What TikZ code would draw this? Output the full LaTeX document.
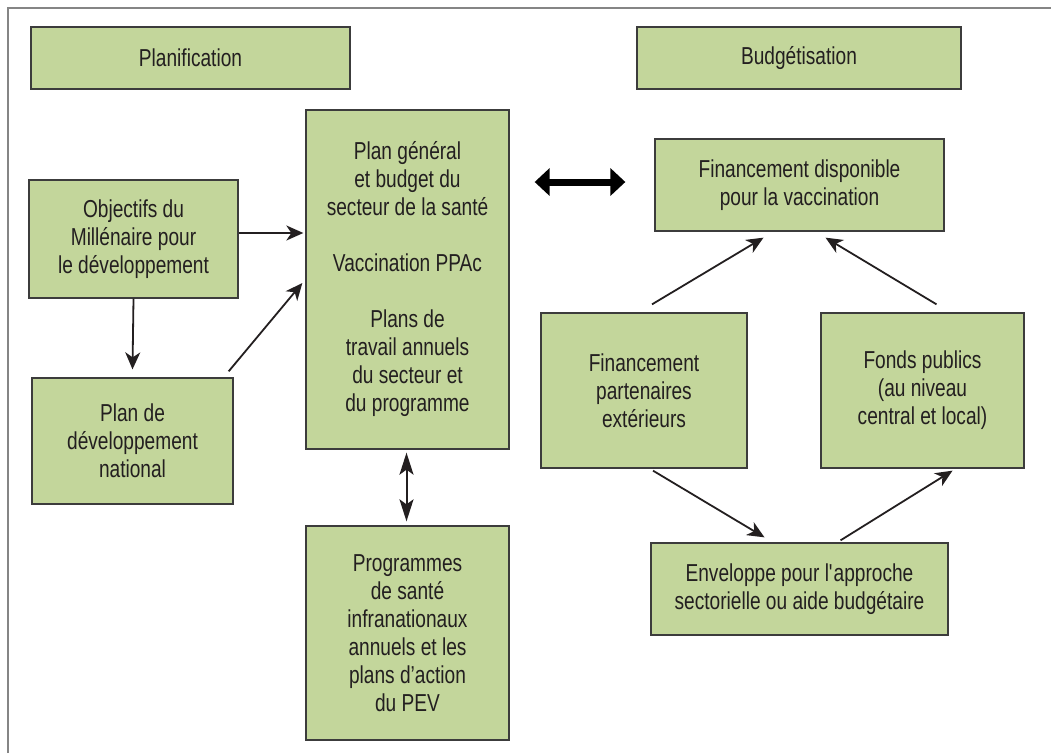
\documentclass[tikz,border=0pt]{standalone}
\usepackage{fontspec}
\setmainfont{Liberation Sans}[FakeStretch=0.78]
\usetikzlibrary{arrows.meta,calc}
\definecolor{boxgreen}{HTML}{C3D69B}
\definecolor{boxline}{HTML}{3C3C3C}
\definecolor{txt}{HTML}{231F20}
\definecolor{framegray}{HTML}{858585}
\tikzset{
  box/.style={draw=boxline, line width=1.3pt, fill=boxgreen, inner sep=0pt,
    align=center, text=txt, font=\fontsize{24.5}{28}\selectfont},
  arr/.style={draw=txt, line width=1.8pt, -{Stealth[length=17pt,width=15pt,inset=5pt]}},
  darr/.style={draw=txt, line width=2pt, {Stealth[length=22pt,width=14pt,inset=5pt]}-{Stealth[length=22pt,width=14pt,inset=5pt]}},
  bigarr/.style={draw=black, line width=7pt, {Triangle[length=15pt,width=27pt]}-{Triangle[length=15pt,width=27pt]}},
}
\begin{document}
\begin{tikzpicture}[x=1pt,y=-1pt]
\useasboundingbox (0,0) rectangle (1051,753);
\draw[framegray, line width=2pt] (8,753) -- (8,8) -- (1051,8);

\node[box, minimum width=319, minimum height=62] (plan) at (190.5,58) {Planification};
\node[box, minimum width=324, minimum height=62] (budg) at (799,58) {Budgétisation};

\node[box, minimum width=209, minimum height=118] (obj) at (133.5,239)
  {Objectifs du\\ Millénaire pour\\ le développement};
\node[box, minimum width=201, minimum height=126] (pdev) at (132.5,441)
  {Plan de\\ développement\\ national};
\node[box, minimum width=203, minimum height=339] (gen) at (407.5,279.5)
  {Plan général\\ et budget du\\ secteur de la santé\\[28pt] Vaccination PPAc\\[28pt] Plans de\\ travail annuels\\ du secteur et\\ du programme};
\node[box, minimum width=203, minimum height=214] (prog) at (407.5,633)
  {Programmes\\ de santé\\ infranationaux\\ annuels et les\\ plans d’action\\ du PEV};

\node[box, minimum width=289, minimum height=92] (fd) at (799.5,185)
  {Financement disponible\\ pour la vaccination};
\node[box, minimum width=206, minimum height=155] (fp) at (644,390.5)
  {Financement\\ partenaires\\ extérieurs};
\node[box, minimum width=203, minimum height=155] (fonds) at (922.5,390.5)
  {Fonds publics\\ (au niveau\\ central et local)};
\node[box, minimum width=297, minimum height=92] (env) at (799.5,589)
  {Enveloppe pour l\textquotesingle approche\\ sectorielle ou aide budgétaire};

% arrows
\draw[arr] (obj.east |- 0,233) -- ($(gen.west |- 0,233)+(-2,0)$);
\draw[arr] (obj.south) -- ($(pdev.north)+(0,-8)$);
\draw[arr] ($(pdev.north east)+(-5,-6)$) -- ($(gen.west |- 0,283)+(-3,0)$);
\draw[bigarr] ($(gen.east |- 0,182)+(25,0)$) -- ($(fd.west |- 0,182)+(-29,0)$);
\draw[darr] ($(gen.south)+(-1,3)$) -- ($(prog.north)+(-1,-4)$);

\draw[arr] ($(fp.north)+(8,-8)$) -- ($(fd.south)+(-36,6)$);
\draw[arr] ($(fonds.north)+(14,-8)$) -- ($(fd.south)+(26,6)$);
\draw[arr] ($(fp.south)+(9,2)$) -- ($(env.north)+(-35,-5)$);
\draw[arr] ($(env.north)+(41,-2)$) -- ($(fonds.south)+(30,2)$);
\end{tikzpicture}
\end{document}
